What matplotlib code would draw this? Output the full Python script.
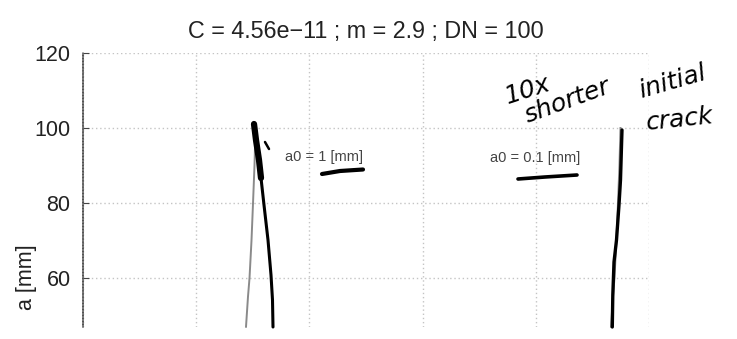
import matplotlib
matplotlib.use("Agg")
import matplotlib.pyplot as plt
from matplotlib.lines import Line2D

plt.rcParams['font.family'] = ['Liberation Sans', 'DejaVu Sans']

# Paris-law crack growth: crack length a [mm] against load cycles N
a_mm = [47, 55, 60, 70, 80, 90, 100]
cycles_a0_1 = [288000, 291500, 294200, 297700, 300400, 303000, 304800]
cycles_a0_01 = [932900, 936400, 939000, 942400, 945200, 947800, 949600]
curve_labels = ["a0 = 1 [mm]", "a0 = 0.1 [mm]"]
label_pos = [(356900, 92.3), (719100, 92.0)]
title = "C = 4.56e\u221211 ; m = 2.9 ; DN = 100"
y_ticks = [60, 80, 100, 120]
x_ticks = [0, 200000, 400000, 600000, 800000, 1000000]

W, H = 737, 339
fig = plt.figure(figsize=(W / 100, H / 100), dpi=100)
fig.patch.set_facecolor("white")

ax = fig.add_axes([83 / W, 12 / H, 566 / W, 274 / H])
ax.set_xlim(0, 1000000)
ax.set_ylim(46.93, 120)
ax.set_xticks(x_ticks)
ax.set_yticks(y_ticks)
ax.set_yticklabels([str(t) for t in y_ticks])

ax.grid(True, color="#c4c4c4", linestyle=(0, (1, 2.0)), linewidth=1.0)
ax.set_axisbelow(True)
for s in ("top", "right", "bottom"):
    ax.spines[s].set_visible(False)
ax.spines["left"].set_color("#555555")
ax.spines["left"].set_linestyle((0, (1.2, 0.8)))
ax.spines["left"].set_linewidth(1.1)

ax.tick_params(axis="x", bottom=False, labelbottom=False)
ax.tick_params(axis="y", direction="in", length=4, width=0.8, color="#444444",
               labelsize=15.5, labelcolor="#222222", pad=9)

ax.plot(cycles_a0_1, a_mm, color="#8a8a8a", linewidth=1.4, clip_on=False)
ax.plot(cycles_a0_01, a_mm, color="#8a8a8a", linewidth=1.4, clip_on=False)

for txt, (xx, yy) in zip(curve_labels, label_pos):
    ax.text(xx, yy, txt, fontsize=10.5, color="#444444", ha="left", va="center")

ax.set_title(title, fontsize=16.8, color="#222222", pad=11)
ax.set_ylabel("a [mm]", fontsize=15.5, color="#222222")
ax.yaxis.set_label_coords(-0.082, 0.18)


# pen marks written over the printed chart (pixel positions on the page)
def pen(points, lw):
    xs = [p[0] / W for p in points]
    ys = [1 - p[1] / H for p in points]
    fig.add_artist(Line2D(xs, ys, transform=fig.transFigure, color="black",
                          linewidth=lw, solid_capstyle="round",
                          solid_joinstyle="round"))


pen([(254, 124), (256, 140), (259, 160), (261, 178)], 4.5)
pen([(261, 178), (264, 205), (268, 240), (271, 275), (272.5, 300), (273, 327)], 2.2)
pen([(265, 142), (269, 149)], 1.8)
pen([(322, 174), (340, 171), (363, 169.5)], 3.0)
pen([(518, 179), (545, 177), (577, 175)], 2.6)
pen([(622, 130), (620.5, 180), (619, 205), (616.5, 240), (614, 262),
     (612.8, 295), (612.3, 327)], 2.4)

hand = dict(color="black", fontsize=18, family=["DejaVu Sans"],
            fontstyle="oblique", ha="center", va="center",
            transform=fig.transFigure)
fig.text(528 / W, 1 - 90 / H, "10x", rotation=18, **hand)
fig.text(567 / W, 1 - 101 / H, "shorter", rotation=20, **hand)
fig.text(672 / W, 1 - 82 / H, "initial", rotation=16, **hand)
fig.text(680 / W, 1 - 120 / H, "crack", rotation=6, **hand)

fig.savefig("out.png", dpi=100, facecolor="white")
